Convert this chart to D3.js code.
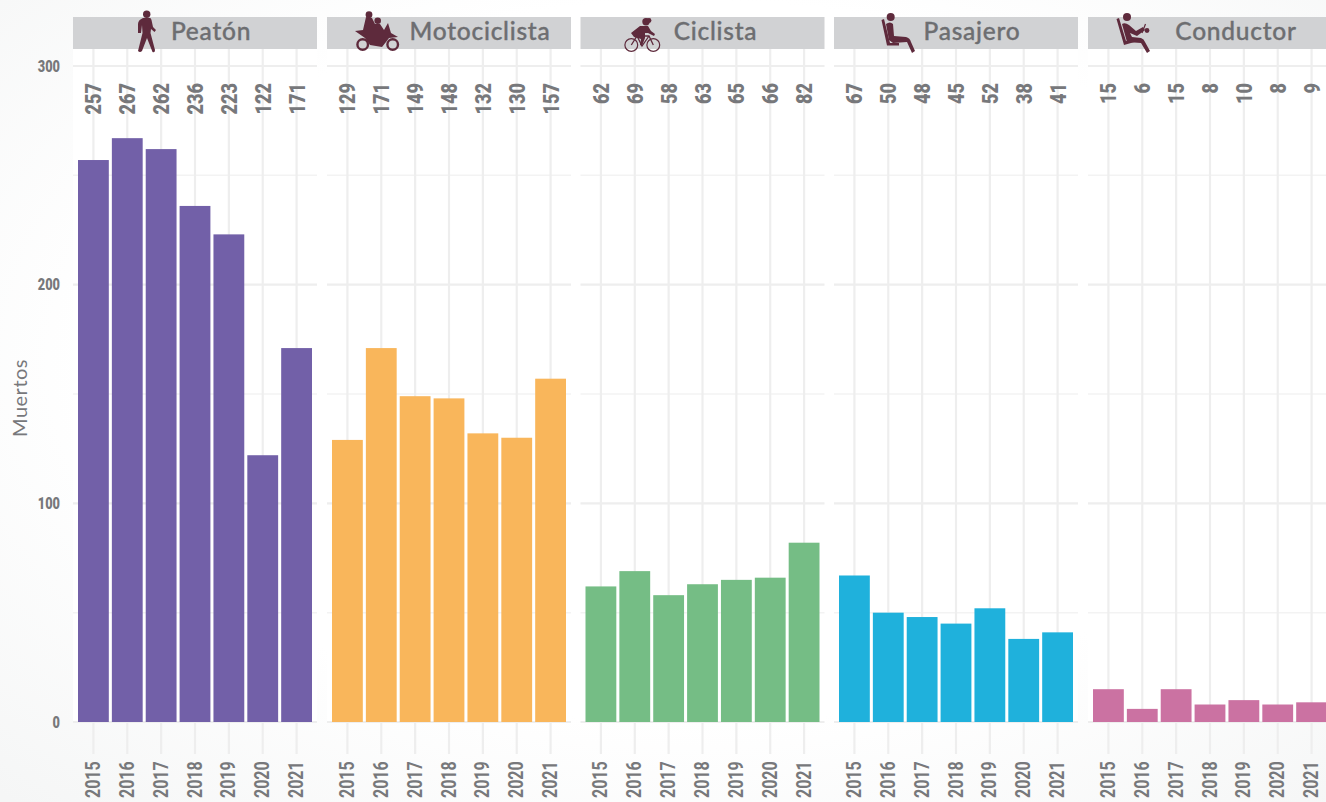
<!DOCTYPE html>
<html><head><meta charset="utf-8">
<script src="https://cdn.jsdelivr.net/npm/d3@7/dist/d3.min.js"></script>
<style>html,body{margin:0;padding:0;background:#fff;overflow:hidden}svg{display:block}</style>
</head><body><svg id="c" width="1326" height="802"></svg>
<script>
const years=[2015,2016,2017,2018,2019,2020,2021];
const categories=["Peatón","Motociclista","Ciclista","Pasajero","Conductor"];
const peaton=[257,267,262,236,223,122,171];
const motociclista=[129,171,149,148,132,130,157];
const ciclista=[62,69,58,63,65,66,82];
const pasajero=[67,50,48,45,52,38,41];
const conductor=[15,6,15,8,10,8,9];
const seriesValues=[peaton,motociclista,ciclista,pasajero,conductor];
const colors=["#7260A8","#F9B65B","#75BD85","#1FB1DC","#CB72A2"];
const yMajor=[0,100,200,300], yMinor=[50,150,250];
const panelLeft=[73,327,580.5,834,1088], panelW=244;
const labelFont='Roboto,sans-serif';
const stripFont='Lato,"Open Sans",sans-serif';
const iconColor="#5E2A3C";

const svg=d3.select("#c");
const defs=svg.append("defs");
const g=defs.append("radialGradient").attr("id","bg").attr("cx","52%").attr("cy","45%").attr("r","75%");
g.append("stop").attr("offset","0.6").attr("stop-color","#ffffff");
g.append("stop").attr("offset","1").attr("stop-color","#f5f6f6");
svg.append("rect").attr("width",1326).attr("height",802).attr("fill","url(#bg)");

const y=d3.scaleLinear().domain([0,300]).range([722,66]);

const ring=(s,cx,cy,r,w)=>s.append("circle").attr("cx",cx).attr("cy",cy).attr("r",r).attr("fill","none").attr("stroke",iconColor).attr("stroke-width",w);
const dot=(s,cx,cy,r)=>s.append("circle").attr("cx",cx).attr("cy",cy).attr("r",r);
const icons=[
 s=>{ dot(s,146.7,14.2,3.7);
      s.append("path").attr("d","M143,18 L150,18 Q151,18 151.5,20 L153,27 L156,30 L154.5,32 L151,29 L150.5,33 L155,50 Q155,53 152.5,52 L147,38 L142,51 Q140,53 138,51 L142.5,33 L142,25 L141,33 L138,33 L138,24 Q138,20 143,18Z"); },
 s=>{ dot(s,369,14.7,3.4); dot(s,377.7,20.7,3.3);
      s.append("path").attr("d","M366,17 L372,18 L375,24 L380,24 L384,30 L388,23 L391,33 L398,37 L389,38 L386,42 L382,47 L370,45 L365,38 L355,31 L363,30 Z");
      ring(s,362.7,44.5,5.3,2.4); ring(s,392.7,44.5,5.3,2.4); },
 s=>{ dot(s,646,21.7,3.7); dot(s,649,20.5,2.4);
      s.append("path").attr("d","M640,26 L648,26 L651,31 L655,34 L654,36 L648,33 L645,33 L645,38 L642,46 L640,45 L641,39 L634,37 L631,33 Z");
      ring(s,631.3,45,6.4,1.2); ring(s,653.3,45,6.4,1.2);
      s.append("path").attr("d","M631.3,45 L637,36 L649,36 L653.3,45 M637,36 L642,46 L649,36").attr("fill","none").attr("stroke",iconColor).attr("stroke-width",1.3); },
 s=>{ dot(s,890.7,17,4);
      s.append("path").attr("d","M886,24 Q890,21 893,24 L894,36 L906,37 Q910,38 911,42 L915,51 L912,53 L907,42 L893,43 L889,40Z");
      s.append("path").attr("d","M881.5,20 L884,19 L890,43 L899,43 L899,45.5 L887,45.5 Z"); },
 s=>{ dot(s,1127,17,4);
      s.append("path").attr("d","M1122,24 Q1125,22 1129,25 L1136,31 L1143,27 L1145,30 L1137,36 L1130,33 L1132,37 L1141,38 Q1144,39 1145,42 L1150,51 L1147,53 L1141,43 L1127,42 Z");
      s.append("path").attr("d","M1116.5,19 L1119,18 L1126,41 L1138,39 L1138,41 L1124,45 Z");
      s.append("path").attr("d","M1145.5,24 L1142,33").attr("fill","none").attr("stroke",iconColor).attr("stroke-width",1.2);
      dot(s,1147,30.5,2.4); }
];
const stripCx=[211,480,715.5,972,1236];

categories.forEach((cat,i)=>{
  const L=panelLeft[i], vals=seriesValues[i];
  const x=d3.scaleBand().domain(years).range([L+5,L+239]).paddingInner(0.09).paddingOuter(0);
  const cx=d=>x(d)+x.bandwidth()/2;
  const p=svg.append("g");
  p.append("rect").attr("x",L).attr("y",49).attr("width",panelW).attr("height",673).attr("fill","#fff");
  p.selectAll(".mn").data(yMinor).join("line").attr("x1",L).attr("x2",L+panelW)
    .attr("y1",y).attr("y2",y).attr("stroke","#f3f3f3").attr("stroke-width",1.5);
  p.selectAll(".mj").data(yMajor).join("line").attr("x1",L).attr("x2",L+panelW)
    .attr("y1",y).attr("y2",y).attr("stroke","#eeeeee").attr("stroke-width",2.2);
  p.selectAll(".v").data(years).join("line").attr("x1",cx).attr("x2",cx)
    .attr("y1",49).attr("y2",754).attr("stroke","#eeeeee").attr("stroke-width",2.2);
  p.selectAll(".b").data(vals).join("rect")
    .attr("x",(d,j)=>x(years[j])).attr("width",x.bandwidth())
    .attr("y",d=>y(d)).attr("height",d=>y(0)-y(d)).attr("fill",colors[i]);
  p.selectAll(".vl").data(vals).join("text")
    .attr("transform",(d,j)=>`translate(${cx(years[j])+8},83) rotate(-90) scale(0.84,1)`)
    .attr("text-anchor","end")
    .attr("font-family",labelFont).attr("font-weight",900).attr("font-size",21.5)
    .attr("fill","#77787b").text(d=>d);
  p.selectAll(".yl").data(years).join("text")
    .attr("transform",d=>`translate(${cx(d)+6.5},798) rotate(-90) scale(0.78,1)`)
    .attr("font-family",labelFont).attr("font-weight",700).attr("font-size",20.5)
    .attr("fill","#77787b").text(d=>d);
  p.append("rect").attr("x",L).attr("y",17).attr("width",panelW).attr("height",32).attr("fill","#d1d2d4");
  p.append("text").attr("x",stripCx[i]).attr("y",40).attr("text-anchor","middle")
    .attr("font-family",stripFont).attr("font-size",24.5).attr("font-weight",500)
    .attr("letter-spacing",0.75).attr("fill","#6d6e71").attr("stroke","#6d6e71").attr("stroke-width",0.35).text(cat);
  const ic=svg.append("g").attr("fill",iconColor);
  icons[i](ic);
});

svg.selectAll(".yt").data(yMajor).join("text")
  .attr("transform",d=>`translate(60,${y(d)+5.5}) scale(0.8,1)`).attr("text-anchor","end")
  .attr("font-family",labelFont).attr("font-weight",900).attr("font-size",16).attr("fill","#77787b").text(d=>d);
svg.append("text").attr("transform","translate(27,398) rotate(-90)").attr("text-anchor","middle")
  .attr("font-family",stripFont).attr("font-size",20).attr("letter-spacing",0.5).attr("fill","#77787b").text("Muertos");
</script></body></html>
